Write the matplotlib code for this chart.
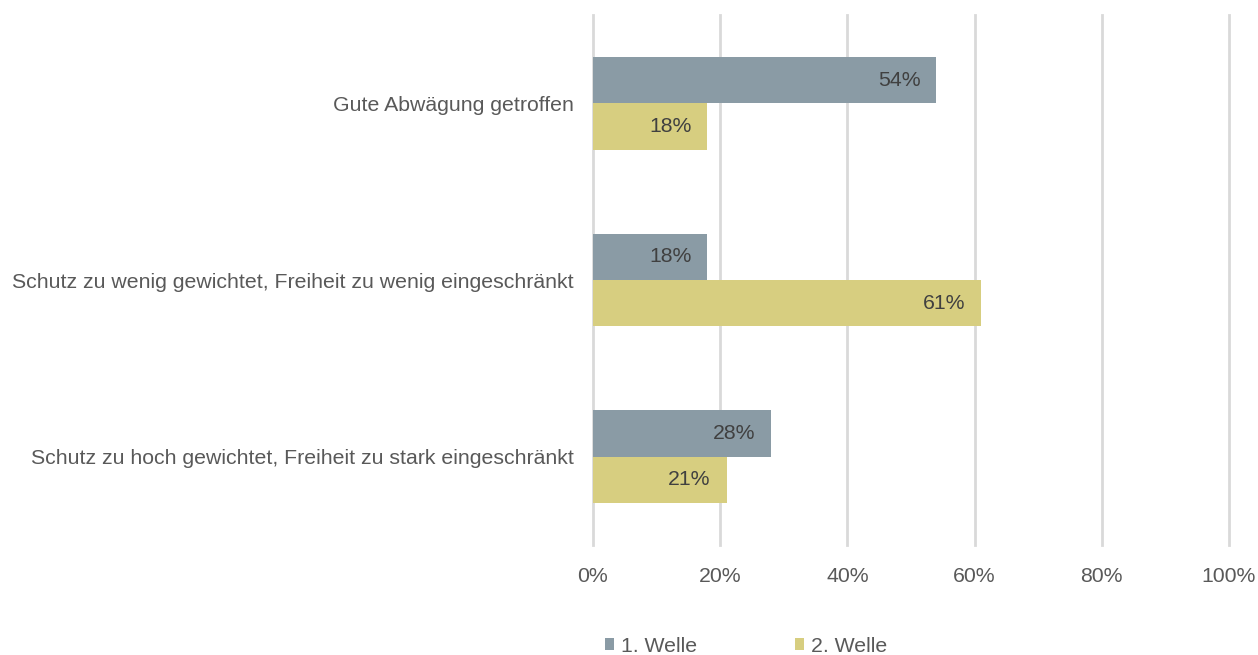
import matplotlib.pyplot as plt
import numpy as np

plt.rcParams['font.family'] = ['Liberation Sans', 'DejaVu Sans']

categories = ["Gute Abwägung getroffen",
              "Schutz zu wenig gewichtet, Freiheit zu wenig eingeschränkt",
              "Schutz zu hoch gewichtet, Freiheit zu stark eingeschränkt"]
welle1 = [54, 18, 28]
welle2 = [18, 61, 21]
series_names = ["1. Welle", "2. Welle"]
xticks = [0, 20, 40, 60, 80, 100]

c1 = '#8a9ba5'
c2 = '#d7ce80'
txt = '#595959'
fs = 15.3

fig = plt.figure(figsize=(12.58, 6.55), dpi=100)
ax = fig.add_axes([593 / 1258, 1 - 545 / 655, 636 / 1258, 530 / 655])

y = np.arange(len(categories))
h = 0.262
b1 = ax.barh(y - h / 2, welle1, height=h, color=c1, label=series_names[0], zorder=3)
b2 = ax.barh(y + h / 2, welle2, height=h, color=c2, label=series_names[1], zorder=3)

for bars, vals in [(b1, welle1), (b2, welle2)]:
    for bar, v in zip(bars, vals):
        ax.annotate(f"{v}%", (v, bar.get_y() + bar.get_height() / 2),
                    xytext=(-16, 0), textcoords='offset pixels',
                    ha='right', va='center', fontsize=fs, color='#404040', zorder=4)

ax.set_xlim(0, 100)
ax.set_ylim(2.5, -0.5)
ax.set_yticks(y)
ax.set_yticklabels(categories)
ax.set_xticks(xticks)
ax.set_xticklabels([f"{t}%" for t in xticks])
ax.tick_params(axis='both', length=0, labelsize=fs, labelcolor=txt)
ax.tick_params(axis='y', pad=14)
ax.tick_params(axis='x', pad=16)
for t in xticks:
    ax.axvline(t, color='#d9d9d9', linewidth=2, zorder=0, clip_on=False)
for s in ax.spines.values():
    s.set_visible(False)

fig.legend(handles=[b1, b2], labels=series_names, loc='center',
           bbox_to_anchor=(746 / 1258, 1 - 646 / 655), ncol=2, frameon=False,
           fontsize=fs, labelcolor=txt, handlelength=0.42, handleheight=0.55,
           handletextpad=0.32, columnspacing=4.6)

fig.savefig('out.png', dpi=100)
